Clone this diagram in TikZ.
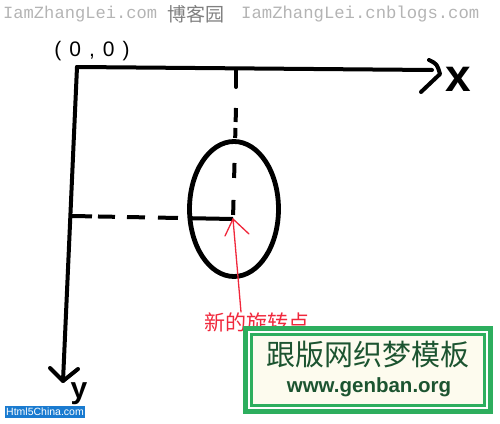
\documentclass[tikz,border=0pt]{standalone}
\usepackage{fontspec}
\usetikzlibrary{shapes.geometric}
\setmainfont{Liberation Sans}
\newfontfamily\cjk{Noto Sans CJK SC}
\newfontfamily\monof{Liberation Mono}
\definecolor{wmgray}{RGB}{180,180,180}
\definecolor{wmcjk}{RGB}{128,128,128}
\definecolor{gbgreen}{RGB}{45,174,94}
\definecolor{gbdark}{RGB}{28,84,48}
\definecolor{gbcream}{RGB}{253,251,238}
\definecolor{redpen}{RGB}{240,40,60}
\definecolor{h5blue}{RGB}{26,123,208}
\begin{document}
\begin{tikzpicture}[x=1pt,y=-1pt,
  pen/.style={line width=4pt,line cap=round,line join=round},
  redline/.style={draw=redpen,line width=1.3pt,line cap=round},
  wm/.style={inner sep=0pt,anchor=west},
  hand/.style={inner sep=0pt,font=\bfseries\fontsize{46}{46}\selectfont}]
\useasboundingbox (0,0) rectangle (500,423);
% watermark
\node[wm,text=wmgray,font=\monof\fontsize{17.1}{17}\selectfont] (wm1) at (3,14) {IamZhangLei.com};
\node[wm,text=wmcjk,font=\cjk\fontsize{19}{19}\selectfont] (wm2) at (167,14) {博客园};
\node[wm,text=wmgray,font=\monof\fontsize{17.25}{17}\selectfont] (wm3) at (241,14) {IamZhangLei.cnblogs.com};
% axes
\coordinate (O) at (77,67);
\coordinate (xe) at (432,70);
\coordinate (ye) at (63,381);
\draw[pen] (O) -- (xe);
\draw[pen] (O) -- (ye);
\coordinate (xa1) at (429,60);
\coordinate (xa2) at (440,74);
\coordinate (xa3) at (421,92);
\draw[pen] (xa1) .. controls (437,64) .. (xa2) -- (xa3);
\coordinate (ya1) at (50,368);
\coordinate (ya2) at (78,369);
\draw[pen] (ya1) -- (ye) -- (ya2);
\node[hand] (xl) at (458,79) {x};
\node[inner sep=0pt,anchor=base,font=\bfseries\fontsize{30}{30}\selectfont] (yl) at (79,398) {y};
% origin label
\node[inner sep=0pt,font=\fontsize{21}{21}\addfontfeature{LetterSpace=38}\selectfont] (ol) at (92,51) {(0,0)};
% tick and dashed guides
\coordinate (tk1) at (236,70);
\coordinate (tk2) at (236,87);
\draw[pen] (tk1) -- (tk2);
\coordinate (P) at (233,219);
\coordinate (vd) at (236,108);
\draw[pen,line cap=butt,dash pattern=on 14pt off 6pt on 10pt off 25pt on 15pt off 22pt on 15pt] (vd) -- (P);
\coordinate (hd) at (72,216);
\draw[pen,line cap=butt,dash pattern=on 20pt off 6pt on 17pt off 12pt on 18pt off 13pt on 20pt off 12pt on 45pt] (hd) -- (P);
% ellipse
\node[draw,line width=4.8pt,ellipse,minimum width=89pt,minimum height=135pt,inner sep=0pt] (el) at (234,209) {};
% red arrow
\coordinate (rs) at (241,312);
\coordinate (ra1) at (225,236);
\coordinate (ra2) at (249,234);
\draw[redline] (rs) -- (P);
\draw[redline] (ra1) -- (P) -- (ra2);
\node[inner sep=0pt,text=redpen,font=\cjk\fontsize{21}{21}\selectfont] (rl) at (257,322) {新的旋转点};
% green banner
\path[fill=white] (243,326) rectangle (493,414);
\draw[draw=gbgreen,line width=5pt] (245.5,328.5) rectangle (490.5,411.5);
\draw[draw=gbgreen,fill=gbcream,line width=3.5pt] (251.5,334.5) rectangle (484.5,405.5);
\node[inner sep=0pt,text=gbdark,font=\cjk\fontsize{29}{29}\selectfont] (gb1) at (368,355) {跟版网织梦模板};
\node[inner sep=0pt,text=gbdark,font=\bfseries\fontsize{20.5}{20}\selectfont] (gb2) at (369,387) {www.genban.org};
% html5china badge
\node[fill=h5blue,text=white,inner sep=1pt,minimum height=12pt,font=\fontsize{10.5}{10.5}\selectfont] (h5) at (45,411.5) {Html5China.com};
\end{tikzpicture}
\end{document}
